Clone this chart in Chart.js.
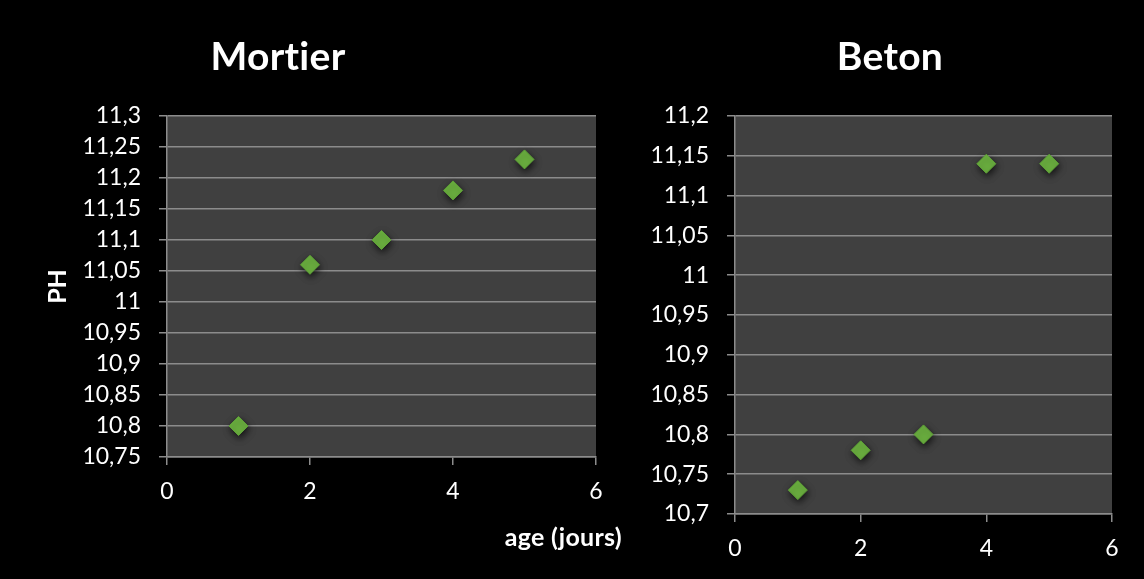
<!DOCTYPE html>
<html>
<head>
<meta charset="utf-8">
<script src="https://cdn.jsdelivr.net/npm/chart.js@4.4.1/dist/chart.umd.min.js"></script>
<style>
  html, body { margin: 0; padding: 0; background: #000; }
  #wrap { position: relative; width: 1144px; height: 579px; background: #000; }
  #wrap canvas { position: absolute; left: 0; top: 0; }
</style>
</head>
<body>
<div id="wrap">
  <canvas id="mortier" width="1144" height="579"></canvas>
  <canvas id="beton" width="1144" height="579"></canvas>
</div>
<script>
// Age of the samples, in days
const ages = [1, 2, 3, 4, 5];
// Measured pH for mortar and concrete
const phMortier = [10.80, 11.06, 11.10, 11.18, 11.23];
const phBeton = [10.73, 10.78, 10.80, 11.14, 11.14];

const titleMortier = 'Mortier';
const titleBeton = 'Beton';
const yAxisLabel = 'PH';
const xAxisLabel = 'age (jours)';

const FONT = 'Lato, "Open Sans", "DejaVu Sans", sans-serif';
const PLOT_BG = '#404040';
const GRID = '#8c8c8c';
const AXIS = '#8c8c8c';
const GREEN = '#6cb140';

const toPoints = (xs, ys) => xs.map((x, i) => ({ x, y: ys[i] }));
const frNumber = v => String(Math.round(v * 100) / 100).replace('.', ',');

// Fills the plot area and adds a soft shadow under the markers
const plotStyle = {
  id: 'plotStyle',
  beforeDraw(chart) {
    const { ctx, chartArea: a } = chart;
    ctx.save();
    ctx.fillStyle = PLOT_BG;
    ctx.fillRect(a.left, a.top, a.right - a.left, a.bottom - a.top);
    ctx.restore();
  },
  beforeDatasetsDraw(chart) {
    const ctx = chart.ctx;
    ctx.save();
    ctx.shadowColor = 'rgba(0,0,0,0.7)';
    ctx.shadowBlur = 7;
    ctx.shadowOffsetX = 1;
    ctx.shadowOffsetY = 3;
  },
  afterDatasetsDraw(chart) {
    chart.ctx.restore();
  }
};

// Free-standing texts: chart heading and axis caption
const captions = {
  id: 'captions',
  afterDraw(chart, args, opts) {
    const ctx = chart.ctx;
    (opts.items || []).forEach(it => {
      ctx.save();
      ctx.fillStyle = '#ffffff';
      ctx.font = it.font;
      ctx.textAlign = it.align || 'center';
      ctx.textBaseline = 'alphabetic';
      if ('letterSpacing' in ctx) ctx.letterSpacing = '0.3px';
      ctx.fillText(it.text, it.x, it.y);
      ctx.restore();
    });
  }
};

function makeChart(id, data, cfg) {
  return new Chart(document.getElementById(id), {
    type: 'scatter',
    data: {
      datasets: [{
        data: toPoints(ages, data),
        pointStyle: 'rectRot',
        pointRadius: 9.5,
        pointHoverRadius: 9.5,
        pointBackgroundColor: GREEN,
        pointBorderColor: '#5ea336',
        pointBorderWidth: 1
      }]
    },
    options: {
      responsive: false,
      animation: false,
      events: [],
      layout: { padding: cfg.padding },
      plugins: {
        legend: { display: false },
        tooltip: { enabled: false },
        captions: { items: cfg.captions }
      },
      scales: {
        x: {
          type: 'linear',
          min: 0, max: 6,
          ticks: {
            stepSize: 2,
            color: '#ffffff',
            font: { family: FONT, size: 23 },
            padding: 13,
            maxRotation: 0
          },
          grid: { drawOnChartArea: false, drawTicks: true, tickLength: 8, color: AXIS, lineWidth: 1.5 },
          border: { display: true, color: AXIS, width: 1.5 },
          afterFit: s => { s.height = cfg.xHeight; }
        },
        y: {
          min: cfg.yMin, max: cfg.yMax,
          ticks: {
            stepSize: 0.05,
            color: '#ffffff',
            font: { family: FONT, size: 23 },
            padding: 18,
            callback: v => frNumber(v)
          },
          grid: { color: GRID, lineWidth: 1.5, tickLength: 8, drawTicks: true },
          border: { display: true, color: AXIS, width: 1.5 },
          title: cfg.yTitle ? {
            display: true,
            text: yAxisLabel,
            color: '#ffffff',
            font: { family: FONT, size: 25, weight: 'bold' },
            padding: { top: 0, bottom: 0 }
          } : { display: false },
          afterFit: s => { s.width = cfg.yWidth; }
        }
      }
    },
    plugins: [plotStyle, captions]
  });
}

makeChart('mortier', phMortier, {
  yMin: 10.75, yMax: 11.3,
  padding: { left: 43, top: 116, right: 1144 - 596, bottom: 72 },
  yWidth: 124,
  xHeight: 50,
  yTitle: true,
  captions: [
    { text: titleMortier, x: 278, y: 70, font: 'bold 39px ' + FONT },
    { text: xAxisLabel, x: 622, y: 546, align: 'right', font: 'bold 25px ' + FONT }
  ]
});

makeChart('beton', phBeton, {
  yMin: 10.7, yMax: 11.2,
  padding: { left: 635, top: 116, right: 1144 - 1112, bottom: 15 },
  yWidth: 100,
  xHeight: 50,
  yTitle: false,
  captions: [
    { text: titleBeton, x: 890, y: 70, font: 'bold 39px ' + FONT }
  ]
});
</script>
</body>
</html>
